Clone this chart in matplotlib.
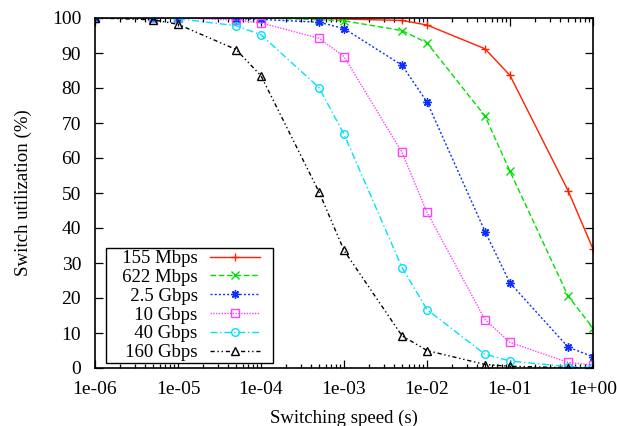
import matplotlib
matplotlib.use("Agg")
import matplotlib.pyplot as plt
from matplotlib.legend_handler import HandlerLine2D
from matplotlib.ticker import FixedLocator, FuncFormatter, MultipleLocator, NullFormatter

plt.rcParams['font.family'] = ['Liberation Serif', 'DejaVu Serif']

speed = [1e-6, 5e-6, 1e-5, 5e-5, 1e-4, 5e-4, 1e-3, 5e-3, 1e-2, 5e-2, 1e-1, 5e-1, 1.0]

u155m = [100, 100, 100, 100, 100, 99.9, 99.7, 99.3, 98.0, 91.2, 83.6, 50.7, 34.0]
u622m = [100, 100, 100, 100, 100, 99.5, 99.2, 96.4, 92.9, 72.0, 56.2, 20.6, 11.4]
u2g5 = [100, 100, 100, 99.8, 99.6, 98.8, 97.0, 86.5, 76.0, 39.0, 24.3, 6.0, 3.2]
u10g = [100, 100, 100, 99.4, 98.6, 94.2, 89.0, 61.6, 44.5, 13.8, 7.3, 1.6, 0.8]
u40g = [100, 100, 99.8, 97.8, 95.2, 80.1, 66.8, 28.7, 16.7, 3.9, 2.0, 0.4, 0.2]
u160g = [100, 99.5, 98.2, 91.0, 83.5, 50.3, 33.6, 9.2, 5.0, 1.0, 0.5, 0.1, 0.05]

labels = ['155 Mbps', '622 Mbps', '2.5 Gbps', '10 Gbps', '40 Gbps', '160 Gbps']
series = [u155m, u622m, u2g5, u10g, u40g, u160g]
colors = ['#ff2000', '#00e000', '#1030ff', '#ff40ff', '#00e0ff', '#000000']
styles = ['-', (0, (4, 2)), (0, (1.5, 1.5)), (0, (1, 1)), (0, (5, 2, 1, 2)), (0, (3, 2, 1, 2, 1, 2))]
markers = ['+', 'x', (8, 2, 0), 's', 'o', '^']

decades = [10.0 ** k for k in range(-6, 1)]
minor = [m * d for d in decades[:-1] for m in range(2, 10)]


class GapHandler(HandlerLine2D):
    # gnuplot-style key: leave some room between the sample line and the frame
    def get_xdata(self, legend, xdescent, ydescent, width, height, fontsize):
        w = width - 0.64 * fontsize
        return [-xdescent, -xdescent + w], [-xdescent + 0.5 * w]


fig = plt.figure(figsize=(6.17, 4.26), dpi=100)
ax = fig.add_axes([95 / 617, 1 - 368 / 426, (593 - 95) / 617, (368 - 18) / 426])

for y, lab, c, ls, m in zip(series, labels, colors, styles, markers):
    filled = m in ('+', 'x') or isinstance(m, tuple)
    ax.plot(speed, y, color=c, linestyle=ls, linewidth=1.0, marker=m,
            markersize=6 if filled else 5.5,
            markerfacecolor=c if filled else 'none', markeredgecolor=c,
            markeredgewidth=1.0, label='   ' + lab)

ax.set_xscale('log')
ax.set_xlim(1e-6, 1.0)
ax.set_ylim(0, 100)
ax.xaxis.set_major_locator(FixedLocator(decades))
ax.xaxis.set_minor_locator(FixedLocator(minor))
ax.xaxis.set_major_formatter(FuncFormatter(lambda v, p: '%.0e' % v))
ax.xaxis.set_minor_formatter(NullFormatter())
ax.yaxis.set_major_locator(MultipleLocator(10))

ax.tick_params(which='both', direction='in', top=True, right=True, labelsize=14, color='black')
ax.tick_params(which='major', length=6, width=0.9)
ax.tick_params(axis='x', which='major', pad=9)
ax.tick_params(axis='y', which='major', pad=10)
ax.tick_params(which='minor', length=3, width=0.9)
for s in ax.spines.values():
    s.set_linewidth(1.2)
    s.set_color('black')

ax.set_xlabel('Switching speed (s)', fontsize=13.5, labelpad=9)
ax.set_ylabel('Switch utilization (%)', fontsize=13.6, labelpad=14)

leg = ax.legend(loc='lower left', bbox_to_anchor=(11 / 498, 5 / 350), borderaxespad=0,
                markerfirst=False, fontsize=13.5, handlelength=3.3,
                fancybox=False, framealpha=1, edgecolor='black', borderpad=0.1,
                labelspacing=0.09, handletextpad=0.64, numpoints=1,
                handler_map={matplotlib.lines.Line2D: GapHandler()})
leg.get_frame().set_linewidth(1.0)

fig.savefig('out.png', dpi=100)
